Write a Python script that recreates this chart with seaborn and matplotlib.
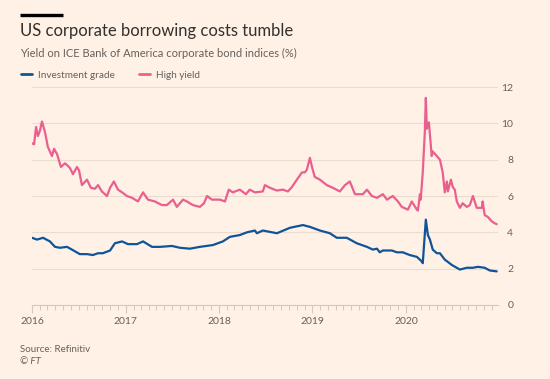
import matplotlib
matplotlib.use("Agg")
import matplotlib.pyplot as plt
import matplotlib.dates as mdates
import seaborn as sns
import pandas as pd

# ---------------- data ----------------
hy_dates = [
    "2016-01-01", "2016-01-09", "2016-01-17", "2016-01-24", "2016-02-01", "2016-02-09",
    "2016-02-17", "2016-02-21", "2016-03-03", "2016-03-19", "2016-03-27", "2016-04-08",
    "2016-04-23", "2016-05-09", "2016-05-28", "2016-06-09", "2016-06-25", "2016-07-03",
    "2016-07-14", "2016-08-03", "2016-08-18", "2016-09-03", "2016-09-15", "2016-09-30",
    "2016-10-20", "2016-11-01", "2016-11-16", "2016-12-02", "2016-12-18", "2017-01-06",
    "2017-01-26", "2017-02-18", "2017-03-10", "2017-03-29", "2017-04-25", "2017-05-23",
    "2017-06-11", "2017-07-05", "2017-07-20", "2017-08-13", "2017-08-28", "2017-09-21",
    "2017-10-18", "2017-11-03", "2017-11-15", "2017-12-04", "2018-01-04", "2018-01-24",
    "2018-02-08", "2018-02-24", "2018-03-23", "2018-04-16", "2018-05-01", "2018-05-21",
    "2018-06-21", "2018-06-29", "2018-07-19", "2018-08-15", "2018-09-07", "2018-09-27",
    "2018-10-13", "2018-11-01", "2018-11-21", "2018-12-02", "2018-12-10", "2018-12-22",
    "2018-12-30", "2019-01-10", "2019-01-30", "2019-02-26", "2019-03-22", "2019-04-18",
    "2019-05-08", "2019-05-27", "2019-06-16", "2019-07-17", "2019-08-02", "2019-08-21",
    "2019-09-10", "2019-10-03", "2019-10-19", "2019-11-11", "2019-12-01", "2019-12-16",
    "2020-01-09", "2020-01-24", "2020-02-13", "2020-02-17", "2020-02-25", "2020-02-28",
    "2020-03-07", "2020-03-15", "2020-03-19", "2020-03-23", "2020-03-31", "2020-04-11",
    "2020-04-15", "2020-05-01", "2020-05-13", "2020-05-24", "2020-06-01", "2020-06-09",
    "2020-06-13", "2020-06-25", "2020-07-02", "2020-07-10", "2020-07-18", "2020-07-30",
    "2020-08-10", "2020-08-26", "2020-09-07", "2020-09-19", "2020-10-04", "2020-10-24",
    "2020-10-27", "2020-11-04", "2020-11-16", "2020-12-02", "2020-12-13", "2020-12-21",
]
hy_values = [
    8.9, 8.85, 9.8, 9.3, 9.6, 10.1,
    9.7, 9.5, 8.7, 8.2, 8.6, 8.3,
    7.6, 7.8, 7.55, 7.2, 7.6, 7.4,
    6.6, 6.9, 6.45, 6.4, 6.6, 6.25,
    6.0, 6.45, 6.8, 6.35, 6.2, 6.0,
    5.9, 5.7, 6.2, 5.8, 5.7, 5.5,
    5.5, 5.8, 5.4, 5.8, 5.7, 5.5,
    5.4, 5.6, 6.0, 5.8, 5.8, 5.7,
    6.35, 6.2, 6.35, 6.1, 6.35, 6.2,
    6.25, 6.6, 6.45, 6.3, 6.35, 6.25,
    6.5, 6.9, 7.3, 7.3, 7.45, 8.1,
    7.6, 7.05, 6.9, 6.6, 6.45, 6.25,
    6.6, 6.8, 6.1, 6.1, 6.35, 6.0,
    5.9, 6.1, 5.8, 6.0, 5.7, 5.4,
    5.25, 5.7, 5.25, 5.2, 6.1, 5.8,
    7.3, 9.5, 11.4, 9.7, 10.05, 8.2,
    8.45, 8.2, 8.0, 7.3, 6.2, 6.8,
    6.25, 6.9, 6.5, 6.35, 5.7, 5.35,
    5.6, 5.4, 5.5, 6.0, 5.35, 5.35,
    5.7, 4.95, 4.85, 4.6, 4.5, 4.45,
]

ig_dates = [
    "2016-01-01", "2016-01-21", "2016-02-13", "2016-03-11", "2016-03-31", "2016-04-19",
    "2016-05-17", "2016-06-05", "2016-07-06", "2016-08-03", "2016-08-26", "2016-09-15",
    "2016-10-04", "2016-11-01", "2016-11-20", "2016-12-18", "2017-01-10", "2017-02-14",
    "2017-03-10", "2017-04-14", "2017-05-15", "2017-07-01", "2017-08-01", "2017-09-09",
    "2017-10-18", "2017-12-08", "2018-01-16", "2018-02-12", "2018-03-23", "2018-04-20",
    "2018-05-21", "2018-05-29", "2018-06-21", "2018-08-15", "2018-10-05", "2018-11-25",
    "2018-12-22", "2019-01-30", "2019-03-10", "2019-04-06", "2019-05-15", "2019-06-23",
    "2019-08-02", "2019-08-25", "2019-09-10", "2019-09-21", "2019-10-03", "2019-11-07",
    "2019-11-27", "2019-12-20", "2020-01-16", "2020-02-13", "2020-03-03", "2020-03-07",
    "2020-03-19", "2020-03-27", "2020-04-04", "2020-04-15", "2020-05-01", "2020-05-13",
    "2020-06-01", "2020-06-29", "2020-07-30", "2020-08-26", "2020-09-19", "2020-10-08",
    "2020-11-04", "2020-11-24", "2020-12-21",
]
ig_values = [
    3.7, 3.6, 3.7, 3.5, 3.2, 3.15,
    3.2, 3.05, 2.8, 2.8, 2.75, 2.85,
    2.85, 3.0, 3.4, 3.5, 3.35, 3.35,
    3.5, 3.2, 3.2, 3.25, 3.15, 3.1,
    3.2, 3.3, 3.5, 3.75, 3.85, 4.0,
    4.1, 3.95, 4.1, 3.95, 4.25, 4.4,
    4.3, 4.1, 3.95, 3.7, 3.7, 3.4,
    3.2, 3.05, 3.1, 2.9, 3.0, 3.0,
    2.9, 2.9, 2.75, 2.65, 2.4, 2.3,
    4.7, 3.85, 3.6, 3.05, 2.85, 2.85,
    2.5, 2.2, 1.95, 2.05, 2.05, 2.1,
    2.05, 1.9, 1.85,
]

series_names = ["Investment grade", "High yield"]
series_colors = ["#0f5499", "#eb5f8e"]
y_ticks = [0, 2, 4, 6, 8, 10, 12]

title = "US corporate borrowing costs tumble"
subtitle = "Yield on ICE Bank of America corporate bond indices (%)"
source = "Source: Refinitiv"
credit = "© FT"

# ---------------- build table ----------------
df = pd.concat([
    pd.DataFrame({"date": pd.to_datetime(ig_dates), "value": ig_values, "series": series_names[0]}),
    pd.DataFrame({"date": pd.to_datetime(hy_dates), "value": hy_values, "series": series_names[1]}),
], ignore_index=True)

# ---------------- style ----------------
BG = "#fff1e5"
GRID = "#eadccf"
AXIS = "#d6c8bb"
TXT = "#66605c"

sns.set_theme(style="white")
plt.rcParams["font.family"] = ["Lato", "DejaVu Sans"]

fig = plt.figure(figsize=(5.5, 3.79), dpi=100, facecolor=BG)
ax = fig.add_axes([32 / 550, 1 - 305 / 379, (498 - 32) / 550, (305 - 87) / 379])
ax.set_facecolor(BG)

sns.lineplot(data=df, x="date", y="value", hue="series", hue_order=series_names,
             palette=dict(zip(series_names, series_colors)), linewidth=1.6,
             ax=ax, legend=False)

ax.set_ylim(y_ticks[0], y_ticks[-1])
ax.set_xlim(pd.Timestamp("2016-01-01"), pd.Timestamp("2020-12-26"))
ax.set_xlabel("")
ax.set_ylabel("")

# y axis on the right
ax.yaxis.tick_right()
ax.set_yticks(y_ticks)
ax.set_yticklabels([str(t) for t in y_ticks])
ax.tick_params(axis="y", length=0, pad=11, labelsize=7.5, labelcolor=TXT)
for lbl in ax.get_yticklabels():
    lbl.set_horizontalalignment("right")
ax.grid(axis="y", color=GRID, linewidth=0.8)
ax.grid(axis="x", visible=False)
ax.set_axisbelow(True)

# x axis
ax.xaxis.set_major_locator(mdates.YearLocator())
ax.xaxis.set_major_formatter(mdates.DateFormatter("%Y"))
ax.xaxis.set_minor_locator(mdates.MonthLocator())
ax.tick_params(axis="x", which="major", length=6, width=0.8, color=AXIS,
               labelsize=7.5, labelcolor=TXT, pad=3, direction="out")
ax.tick_params(axis="x", which="minor", length=3.5, width=0.7, color=AXIS, direction="out")
ax.tick_params(axis="x", bottom=True, which="both")

for s in ["top", "right", "left"]:
    ax.spines[s].set_visible(False)
ax.spines["bottom"].set_color(AXIS)
ax.spines["bottom"].set_linewidth(0.8)

# ---------------- header ----------------
fig.add_artist(plt.Line2D([20 / 550, 63 / 550], [1 - 14.5 / 379, 1 - 14.5 / 379],
                          color="#000000", linewidth=2.4, solid_capstyle="butt"))
fig.text(20 / 550, 1 - 31 / 379, title, fontsize=12, color="#33302e",
         va="center", ha="left")
fig.text(20 / 550, 1 - 53 / 379, subtitle, fontsize=8, color=TXT,
         va="center", ha="left")

# legend
handles = [plt.Line2D([], [], color=c, linewidth=2) for c in series_colors]
fig.legend(handles, series_names, loc="center left",
           bbox_to_anchor=(19 / 550, 1 - 75 / 379), ncol=2, frameon=False,
           fontsize=7.2, labelcolor=TXT, handlelength=1.05, handletextpad=0.6,
           columnspacing=2.5, borderaxespad=0, borderpad=0.2)

# footer
fig.text(20 / 550, 1 - 350 / 379, source, fontsize=7, color=TXT, va="center", ha="left")
fig.text(20 / 550, 1 - 362 / 379, credit, fontsize=7, color=TXT, va="center",
         ha="left", style="italic")

fig.savefig("out.png", dpi=100, facecolor=BG)
